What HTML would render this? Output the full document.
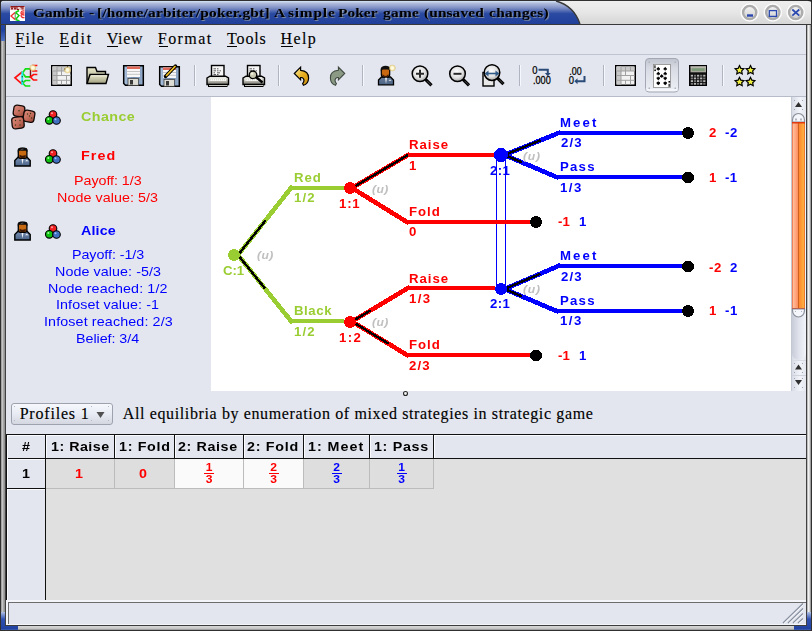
<!DOCTYPE html>
<html><head><meta charset="utf-8">
<style>
html,body{margin:0;padding:0;width:812px;height:631px;overflow:hidden;background:#303030;}
#w{position:absolute;left:0;top:0;width:812px;height:631px;background:#e3e6ef;overflow:hidden;font-family:"Liberation Sans",sans-serif;}
.a{position:absolute;}
.t{position:absolute;line-height:0;white-space:pre;}
</style></head><body>
<div id="w">
<div class="a" style="left:0;top:0;width:812px;height:1px;background:#303030"></div>
<div class="a" style="left:0;top:0;width:1px;height:631px;background:#303030"></div>
<div class="a" style="left:811px;top:0;width:1px;height:631px;background:#303030"></div>
<div class="a" style="left:0;top:630px;width:812px;height:1px;background:#303030"></div>
<div class="a" style="left:1px;top:25px;width:4px;height:600px;background:linear-gradient(to right,#909090,#c8c8c8 35%,#a8a8a8 60%,#8a8a8a)"></div>
<div class="a" style="left:5px;top:24px;width:1px;height:602px;background:#404040"></div>
<div class="a" style="left:807px;top:25px;width:4px;height:600px;background:linear-gradient(to right,#a0a0a0,#f2f2f2 35%,#dcdcdc 60%,#808080)"></div>
<div class="a" style="left:806px;top:24px;width:1px;height:602px;background:#404040"></div>
<div class="a" style="left:1px;top:626px;width:810px;height:4px;background:linear-gradient(to bottom,#d8d8d8,#c8c8c8 60%,#909090)"></div>
<div class="a" style="left:5px;top:625px;width:802px;height:1px;background:#3c3c3c"></div>
<div class="a" style="left:1px;top:4px;width:4px;height:37px;background:linear-gradient(to bottom,#a8b8e0,#3050b0 25%,#2040a0 70%,#5070c0)"></div>
<div class="a" style="left:1px;top:612px;width:4px;height:18px;background:linear-gradient(to bottom,#b0c0e4,#3050b0 40%,#2040a0)"></div>
<div class="a" style="left:1px;top:626px;width:17px;height:4px;background:linear-gradient(to bottom,#2848a8,#2040a0 60%,#4060b0)"></div>
<div class="a" style="left:807px;top:612px;width:4px;height:18px;background:linear-gradient(to bottom,#b0c0e4,#3050b0 40%,#2040a0)"></div>
<div class="a" style="left:794px;top:626px;width:17px;height:4px;background:linear-gradient(to bottom,#2848a8,#2040a0 60%,#4060b0)"></div>
<div class="a" style="left:1px;top:1px;width:810px;height:23px;background:linear-gradient(to bottom,#eeeeee,#e6e6e6 50%,#d6d6d6)"></div>
<svg class="a" style="left:0;top:0" width="812" height="25">
<defs><linearGradient id="tg" x1="0" y1="0" x2="0" y2="1"><stop offset="0" stop-color="#d8e4f4"/><stop offset="0.1" stop-color="#b0bcdc"/><stop offset="0.3" stop-color="#8090c4"/><stop offset="0.55" stop-color="#2a4aa2"/><stop offset="1" stop-color="#1f3f9a"/></linearGradient></defs>
<path d="M1,4 Q1,1 4,1 L557,1 Q574,6 580,24 L1,24 Z" fill="url(#tg)"/>
<path d="M556,1 Q574,6 580,24" fill="none" stroke="#3a3a3a" stroke-width="1.3"/>
<path d="M0,0 L4,0 Q1,1 0,4 Z" fill="#202020"/>
</svg>
<div class="a" style="left:0;top:24px;width:812px;height:1px;background:#383838"></div>
<svg class="a" style="left:10px;top:6px" width="15" height="15" viewBox="0 0 15 15">
<rect width="15" height="15" fill="#fff"/><rect width="15" height="4" fill="#e8c8c8"/>
<path d="M0.5,0.5 h14 M1,1 l1,2.5 l1,-2.5 M4,1 l1,2.5 l1,-2.5 M7,1 v2.5 h2 M10,1 h2 v2.5 M13,1 v2.5" stroke="#901818" stroke-width="1" fill="none"/>
<path d="M5,6.5 L1,10 L5,13.5" stroke="#f03030" stroke-width="1.4" fill="none"/>
<path d="M5.5,6.5 L9,4.5 M5.5,13.5 L9.5,15 M5.5,6.5 L9,9.5 L6,13" stroke="#10d010" stroke-width="1.5" fill="none"/>
<path d="M5.2,6.5 V13.5" stroke="#208020" stroke-width="0.8"/>
<path d="M14.5,5 Q11,4.5 11,7 Q11,9 14.5,9 M14.5,7 h-2.5 M11,9 Q11,12 14.5,11.5" stroke="#f03030" stroke-width="1.3" fill="none"/>
</svg>
<!-- window buttons -->
<svg class="a" style="left:738px;top:0" width="74" height="25">
<defs><linearGradient id="bfill" x1="0" y1="0" x2="0" y2="1"><stop offset="0" stop-color="#f4f4f4"/><stop offset="1" stop-color="#cfcfcf"/></linearGradient>
<filter id="bl1" x="-0.3" y="-0.3" width="1.6" height="1.6"><feGaussianBlur stdDeviation="0.6"/></filter></defs>
<g>
<circle cx="11.7" cy="12.5" r="8.4" fill="none" stroke="#fcfcfc" stroke-width="1.8"/>
<circle cx="34.8" cy="12.5" r="8.4" fill="none" stroke="#fcfcfc" stroke-width="1.8"/>
<circle cx="57.7" cy="12.5" r="8.4" fill="none" stroke="#fcfcfc" stroke-width="1.8"/>
<g filter="url(#bl1)">
<circle cx="11.7" cy="12.5" r="6.6" fill="url(#bfill)" stroke="#acacac" stroke-width="2.4"/>
<circle cx="34.8" cy="12.5" r="6.6" fill="url(#bfill)" stroke="#acacac" stroke-width="2.4"/>
<circle cx="57.7" cy="12.5" r="6.6" fill="url(#bfill)" stroke="#acacac" stroke-width="2.4"/>
</g>
</g>
<rect x="9" y="14.3" width="6" height="2.4" fill="#2a48b0"/>
<rect x="31.3" y="10.6" width="7.2" height="5.8" fill="none" stroke="#2a48b0" stroke-width="1.3"/>
<path d="M54.3,9.5 L61.3,15.6 M61.3,9.5 L54.3,15.6" stroke="#2a48b0" stroke-width="1.7"/>
<path d="M70,0 L74,0 L74,4 Q74,1 70,1 Z" fill="#202020"/>
</svg>

<div class="a" style="left:16px;top:46px;width:9px;height:1px;background:#000"></div>
<div class="a" style="left:60px;top:46px;width:9px;height:1px;background:#000"></div>
<div class="a" style="left:107px;top:46px;width:11px;height:1px;background:#000"></div>
<div class="a" style="left:158.5px;top:46px;width:9px;height:1px;background:#000"></div>
<div class="a" style="left:227px;top:46px;width:10px;height:1px;background:#000"></div>
<div class="a" style="left:281px;top:46px;width:12px;height:1px;background:#000"></div>
<div class="a" style="left:6px;top:54px;width:800px;height:1px;background:#c0c4d0"></div>
<div id="tb"><svg class="a" style="left:0;top:0" width="812" height="97" viewBox="0 0 812 97">
<defs>
<radialGradient id="spk"><stop offset="0" stop-color="#ffffff"/><stop offset="0.45" stop-color="#fbf4c8"/><stop offset="0.8" stop-color="#e0c060" stop-opacity="0.6"/><stop offset="1" stop-color="#d8c070" stop-opacity="0"/></radialGradient>
<radialGradient id="lens" cx="0.45" cy="0.4" r="0.6"><stop offset="0" stop-color="#ffffff"/><stop offset="0.6" stop-color="#e2e2e2"/><stop offset="1" stop-color="#a8a8a8"/></radialGradient>
<linearGradient id="fold" x1="0" y1="0" x2="0" y2="1"><stop offset="0" stop-color="#e8e8cc"/><stop offset="1" stop-color="#a0a080"/></linearGradient>
<linearGradient id="prn" x1="0" y1="0" x2="0" y2="1"><stop offset="0" stop-color="#f4f4f0"/><stop offset="0.5" stop-color="#c8c8c0"/><stop offset="1" stop-color="#707068"/></linearGradient>
<linearGradient id="flp" x1="0" y1="0" x2="1" y2="0"><stop offset="0" stop-color="#b0c8e4"/><stop offset="0.5" stop-color="#7088a8"/><stop offset="1" stop-color="#98b0d0"/></linearGradient>
<linearGradient id="gold" x1="0" y1="0" x2="1" y2="1"><stop offset="0" stop-color="#fff4b0"/><stop offset="0.5" stop-color="#e8b020"/><stop offset="1" stop-color="#c88a10"/></linearGradient>
<linearGradient id="press" x1="0" y1="0" x2="0" y2="1"><stop offset="0" stop-color="#c0c4ce"/><stop offset="0.3" stop-color="#d8dbe4"/><stop offset="1" stop-color="#eef0f6"/></linearGradient>
<linearGradient id="suit" x1="0" y1="0" x2="0" y2="1"><stop offset="0" stop-color="#6a7e9a"/><stop offset="1" stop-color="#4a6282"/></linearGradient>
</defs>
<g fill="none" stroke-width="1.7" stroke-linecap="square">
<path d="M21.5,72.5 L15,77.8 L21.5,83.5" stroke="#ff1010"/>
<path d="M22.5,73 L25.5,68.8 L29.5,68.8 M22.5,73 L25.5,76.8 L29.5,76.8 M22.5,83 L25.5,80.5 L29.5,80.5 M22.5,83 L25.5,86 L29.5,86" stroke="#10e010"/>
<path d="M22.3,72.5 L22.3,84" stroke="#20e8f0" stroke-width="1.9"/>
<path d="M30.5,68.5 L30.5,77" stroke="#801010" stroke-width="1.4"/>
<path d="M33,65.5 L36.5,65.5 M33,71 L36.5,71 M30.5,77 L33.5,74.5 L36.5,74.5 M30.5,77 L33.5,80 L36.5,80" stroke="#ff1010"/>
</g>
<rect x="21.6" y="76" width="1.4" height="1.4" fill="#108040"/><rect x="21.6" y="80.5" width="1.4" height="1.4" fill="#108040"/>
<circle cx="32.8" cy="67.8" r="3.8" fill="url(#spk)"/>
<g><rect x="51.75" y="65.75" width="19.5" height="19.5" fill="#f2f2f2" stroke="#000" stroke-width="1.5"/><rect x="52.5" y="66.5" width="18" height="4.5" fill="#c8c8c8"/><rect x="52.5" y="66.5" width="4.5" height="18" fill="#c8c8c8"/><g stroke="#a0a0a0" stroke-width="1"><path d="M52.5,71 H70.5 M52.5,75.5 H70.5 M52.5,80.3 H70.5 M57,66.5 V84.5 M61.5,66.5 V71 M61.5,80.3 V84.5 M66.5,66.5 V71 M66.5,75.5 V84.5 M61.5,71 V75.5"/></g><circle cx="67.5" cy="70" r="3.8" fill="url(#spk)"/><g fill="#504020"><rect x="64.3" y="68.5" width="1" height="1"/><rect x="70" y="72.5" width="1" height="1"/><rect x="67" y="66.2" width="1" height="1"/></g></g>
<path d="M87,83.5 L87,67.5 L95.5,67.5 L97,71.5 L105.5,71.5 L105.5,74.5" fill="url(#fold)" stroke="#000" stroke-width="1.4"/>
<path d="M90,74.5 L108.5,74.5 L106,83.5 L87,83.5 Z" fill="url(#fold)" stroke="#000" stroke-width="1.4"/>
<path d="M91,75.8 L107,75.8" stroke="#f8f8e8" stroke-width="1"/>
<path d="M123.7,65.7 H143.3 V85.3 H125.5 L123.7,83.5 Z" fill="url(#flp)" stroke="#000" stroke-width="1.5"/><rect x="127" y="66.5" width="13" height="10.5" fill="#f8f8f8"/><rect x="127" y="66.5" width="13" height="2.5" fill="#e06858"/><path d="M127,71.5 H140 M127,74.3 H140" stroke="#b8b8b8" stroke-width="0.8"/><rect x="128" y="78.5" width="10.5" height="6.8" fill="#dcdcd4" stroke="#383838" stroke-width="0.7"/><rect x="130" y="80" width="3" height="4.5" fill="#383838"/>
<path d="M159.7,66.7 H179.3 V86.3 H161.5 L159.7,84.5 Z" fill="url(#flp)" stroke="#000" stroke-width="1.5"/><rect x="163" y="67.5" width="13" height="10.5" fill="#f8f8f8"/><rect x="163" y="67.5" width="13" height="2.5" fill="#e06858"/><path d="M163,72.5 H176 M163,75.3 H176" stroke="#b8b8b8" stroke-width="0.8"/><rect x="164" y="79.5" width="10.5" height="6.8" fill="#dcdcd4" stroke="#383838" stroke-width="0.7"/><rect x="166" y="81" width="3" height="4.5" fill="#383838"/><path d="M165.5,76.5 L175.5,66" stroke="#000" stroke-width="3.4" stroke-linecap="round"/><path d="M166.5,75.5 L175,66.5" stroke="#f4c420" stroke-width="1.7" stroke-linecap="round"/>
<rect x="194" y="65" width="1" height="21" fill="#b0b4c0"/><rect x="195" y="65" width="1" height="21" fill="#f6f8ff"/>
<rect x="278" y="65" width="1" height="21" fill="#b0b4c0"/><rect x="279" y="65" width="1" height="21" fill="#f6f8ff"/>
<rect x="362" y="65" width="1" height="21" fill="#b0b4c0"/><rect x="363" y="65" width="1" height="21" fill="#f6f8ff"/>
<rect x="519" y="65" width="1" height="21" fill="#b0b4c0"/><rect x="520" y="65" width="1" height="21" fill="#f6f8ff"/>
<rect x="603" y="65" width="1" height="21" fill="#b0b4c0"/><rect x="604" y="65" width="1" height="21" fill="#f6f8ff"/>
<rect x="722" y="65" width="1" height="21" fill="#b0b4c0"/><rect x="723" y="65" width="1" height="21" fill="#f6f8ff"/>
<rect x="211.5" y="65.5" width="12.5" height="11.5" fill="#f6f6f6" stroke="#000" stroke-width="1.4"/><g stroke="#606060" stroke-width="1"><path d="M213.5,68.8 H216 M217,68.8 H218.5 M213.5,70.8 H216 M217,70.8 H218.5 M219.5,70.8 H221 M213.5,72.8 H215 M217,72.8 H220 M213.5,74.5 H216 M217,74.5 H218.5"/></g><path d="M207,78 L210,76.2 L225.5,76.2 L228.5,78 L228.5,84.5 L207,84.5 Z" fill="url(#prn)" stroke="#000" stroke-width="1.4"/><rect x="209.5" y="78.5" width="16.5" height="2.5" fill="#f8f8f4"/><path d="M210,79.8 H225.5" stroke="#b0b0a8" stroke-width="0.6" stroke-dasharray="1,1"/><rect x="208.5" y="84.5" width="18.5" height="2" fill="#c8c8c0" stroke="#000" stroke-width="1"/>
<rect x="247.5" y="65.5" width="12.5" height="11.5" fill="#f6f6f6" stroke="#000" stroke-width="1.4"/><g stroke="#606060" stroke-width="1"><path d="M249.5,68.8 H252 M253,68.8 H254.5 M249.5,70.8 H252 M253,70.8 H254.5 M255.5,70.8 H257 M249.5,72.8 H251 M253,72.8 H256 M249.5,74.5 H252 M253,74.5 H254.5"/></g><path d="M243,78 L246,76.2 L261.5,76.2 L264.5,78 L264.5,84.5 L243,84.5 Z" fill="url(#prn)" stroke="#000" stroke-width="1.4"/><rect x="245.5" y="78.5" width="16.5" height="2.5" fill="#f8f8f4"/><path d="M246,79.8 H261.5" stroke="#b0b0a8" stroke-width="0.6" stroke-dasharray="1,1"/><rect x="244.5" y="84.5" width="18.5" height="2" fill="#c8c8c0" stroke="#000" stroke-width="1"/><path d="M256,77 L262.5,82.5" stroke="#000" stroke-width="2.4"/><circle cx="253" cy="74.8" r="3.8" fill="#c8c8b0" stroke="#000" stroke-width="1.3"/><circle cx="252.2" cy="73.8" r="1.3" fill="#f0f0e0"/>
<path d="M294.3,73.5 L300.6,67.2 L300.6,70.3 Q308.8,70.8 308.6,78.2 Q308.3,83.8 303.5,85.3 L302.6,83.6 Q305,80.5 303.2,78.3 Q302.2,77.2 300.6,77.6 L300.6,79.8 Z" fill="url(#gold)" stroke="#000" stroke-width="1.2"/>
<path d="M344.7,73.5 L338.4,67.2 L338.4,70.3 Q330.2,70.8 330.4,78.2 Q330.7,83.8 335.5,85.3 L336.4,83.6 Q334,80.5 335.8,78.3 Q336.8,77.2 338.4,77.6 L338.4,79.8 Z" fill="#8a9a84" stroke="#404a40" stroke-width="1.1"/>
<path d="M378.5,84.8 L378.5,80 L381.5,77 L390.5,77 L393.5,80 L393.5,84.8 Z" fill="url(#suit)" stroke="#000" stroke-width="1.3"/>
<path d="M385,77.5 L386,84 L387,77.5 Z" fill="#f0f4fa"/><path d="M388.5,80.8 h3 l-1.5,-1.3z" fill="#f0f4fa"/>
<rect x="381.3" y="67.5" width="8.4" height="9.5" rx="2.5" fill="#c86810" stroke="#000" stroke-width="1.2"/>
<path d="M380.8,71.5 L380.8,68.5 Q381.8,65.8 385.5,65.8 Q389.7,65.8 390.2,68.5 L390.2,71 L388.2,69.5 L382.8,69.5 Z" fill="#101010"/>
<path d="M382.5,74 Q385.5,78 388.5,74 L388.5,76 Q385.5,78.5 382.5,76Z" fill="#3a1a08"/>
<circle cx="392.3" cy="68" r="3.8" fill="url(#spk)"/>
<path d="M425.5,79.3 L431.5,85.3" stroke="#000" stroke-width="3.2"/><path d="M427,80.8 L431,84.8" stroke="#606060" stroke-width="0.8"/><circle cx="420" cy="73.8" r="7.8" fill="url(#lens)" stroke="#000" stroke-width="1.5"/><path d="M416,73.8 H424 M420,69.8 V77.8" stroke="#2a2a2a" stroke-width="2"/>
<path d="M463.0,79.3 L469.0,85.3" stroke="#000" stroke-width="3.2"/><path d="M464.5,80.8 L468.5,84.8" stroke="#606060" stroke-width="0.8"/><circle cx="457.5" cy="73.8" r="7.8" fill="url(#lens)" stroke="#000" stroke-width="1.5"/><path d="M453.5,73.8 H461.5" stroke="#2a2a2a" stroke-width="2"/>
<rect x="483" y="72.5" width="11" height="13.5" fill="#e8e8e8" stroke="#000" stroke-width="1.4"/>
<path d="M497.5,78.1 L503.5,84.1" stroke="#000" stroke-width="3.2"/><path d="M499,79.6 L503,83.6" stroke="#606060" stroke-width="0.8"/><circle cx="492" cy="72.6" r="7.8" fill="url(#lens)" stroke="#000" stroke-width="1.5"/>
<path d="M485.5,73.5 H498.5" stroke="#305a88" stroke-width="1.6" fill="none"/><path d="M484.8,73.5 L488.5,70.5 L488.5,76.5 Z M499.2,73.5 L495.5,70.5 L495.5,76.5 Z" fill="#305a88"/>
<g font-family="Liberation Sans" font-size="10.5" fill="#000" stroke="#000" stroke-width="0.25">
<text x="532.3" y="74.2" transform="translate(532.3,0) scale(0.9,1) translate(-532.3,0)">0</text>
<text x="533" y="84.2" transform="translate(533,0) scale(0.87,1) translate(-533,0)">.000</text>
<text x="569.3" y="75.2" transform="translate(569.3,0) scale(0.85,1) translate(-569.3,0)">.00</text>
<text x="568.8" y="84.2" transform="translate(568.8,0) scale(0.9,1) translate(-568.8,0)">0</text>
</g>
<path d="M538.5,69.8 H547.8 V73.5" stroke="#2a4a78" stroke-width="2" fill="none"/><path d="M544.8,73 L550.8,73 L547.8,76.3 Z" fill="#2a4a78"/>
<path d="M584.5,76 V81.3 H577" stroke="#2a4a78" stroke-width="2" fill="none"/><path d="M577.5,78.3 L577.5,84.3 L574.3,81.3 Z" fill="#2a4a78"/>
<g><rect x="615.75" y="65.75" width="19.5" height="19.5" fill="#f2f2f2" stroke="#000" stroke-width="1.5"/><rect x="616.5" y="66.5" width="18" height="4.5" fill="#c8c8c8"/><rect x="616.5" y="66.5" width="4.5" height="18" fill="#c8c8c8"/><g stroke="#a0a0a0" stroke-width="1"><path d="M616.5,71 H634.5 M616.5,75.5 H634.5 M616.5,80.3 H634.5 M621,66.5 V84.5 M625.5,66.5 V71 M625.5,80.3 V84.5 M630.5,66.5 V71 M630.5,75.5 V84.5 M625.5,71 V75.5"/></g></g>
<rect x="645.5" y="58.5" width="33" height="33.5" rx="3.5" fill="url(#press)" stroke="#a4a8b4" stroke-width="1"/>
<rect x="646.5" y="89" width="31" height="2" fill="#f4f6fb"/>
<g fill="#b0b4be"><rect x="648.5" y="61.5" width="1.5" height="1.5"/><rect x="674.5" y="61.5" width="1.5" height="1.5"/><rect x="648.5" y="87.5" width="1.5" height="1.5"/><rect x="674.5" y="87.5" width="1.5" height="1.5"/></g>
<rect x="653.5" y="64.5" width="17" height="23" fill="#ffffff" stroke="#8a8a8a" stroke-width="0.8"/>
<path d="M658.30,66.63 C658.77,67.56 660.09,68.19 660.09,69.12 C660.09,69.98 659.08,70.14 658.57,69.51 L659.00,70.53 L657.60,70.53 L658.03,69.51 C657.52,70.14 656.51,69.98 656.51,69.12 C656.51,68.19 657.83,67.56 658.30,66.63 Z" fill="#000"/>
<path d="M665.20,66.63 C665.67,67.56 666.99,68.19 666.99,69.12 C666.99,69.98 665.98,70.14 665.47,69.51 L665.90,70.53 L664.50,70.53 L664.93,69.51 C664.42,70.14 663.41,69.98 663.41,69.12 C663.41,68.19 664.73,67.56 665.20,66.63 Z" fill="#000"/>
<path d="M658.30,71.43 C658.77,72.36 660.09,72.99 660.09,73.92 C660.09,74.78 659.08,74.94 658.57,74.31 L659.00,75.33 L657.60,75.33 L658.03,74.31 C657.52,74.94 656.51,74.78 656.51,73.92 C656.51,72.99 657.83,72.36 658.30,71.43 Z" fill="#000"/>
<path d="M665.20,71.43 C665.67,72.36 666.99,72.99 666.99,73.92 C666.99,74.78 665.98,74.94 665.47,74.31 L665.90,75.33 L664.50,75.33 L664.93,74.31 C664.42,74.94 663.41,74.78 663.41,73.92 C663.41,72.99 664.73,72.36 665.20,71.43 Z" fill="#000"/>
<path d="M661.70,73.93 C662.17,74.86 663.49,75.49 663.49,76.42 C663.49,77.28 662.48,77.44 661.97,76.81 L662.40,77.83 L661.00,77.83 L661.43,76.81 C660.92,77.44 659.91,77.28 659.91,76.42 C659.91,75.49 661.23,74.86 661.70,73.93 Z" fill="#000"/>
<path d="M658.30,80.57 C658.77,79.64 660.09,79.01 660.09,78.08 C660.09,77.22 659.08,77.06 658.57,77.69 L659.00,76.67 L657.60,76.67 L658.03,77.69 C657.52,77.06 656.51,77.22 656.51,78.08 C656.51,79.01 657.83,79.64 658.30,80.57 Z" fill="#000"/>
<path d="M665.20,80.57 C665.67,79.64 666.99,79.01 666.99,78.08 C666.99,77.22 665.98,77.06 665.47,77.69 L665.90,76.67 L664.50,76.67 L664.93,77.69 C664.42,77.06 663.41,77.22 663.41,78.08 C663.41,79.01 664.73,79.64 665.20,80.57 Z" fill="#000"/>
<path d="M658.30,85.37 C658.77,84.44 660.09,83.81 660.09,82.88 C660.09,82.02 659.08,81.86 658.57,82.49 L659.00,81.47 L657.60,81.47 L658.03,82.49 C657.52,81.86 656.51,82.02 656.51,82.88 C656.51,83.81 657.83,84.44 658.30,85.37 Z" fill="#000"/>
<path d="M665.20,85.37 C665.67,84.44 666.99,83.81 666.99,82.88 C666.99,82.02 665.98,81.86 665.47,82.49 L665.90,81.47 L664.50,81.47 L664.93,82.49 C664.42,81.86 663.41,82.02 663.41,82.88 C663.41,83.81 664.73,84.44 665.20,85.37 Z" fill="#000"/>
<rect x="654.3" y="65.3" width="1.3" height="3" fill="#202020"/><rect x="654.3" y="69.5" width="1.6" height="1.6" fill="#000"/><rect x="668.5" y="81" width="1.6" height="1.6" fill="#000"/><rect x="668.5" y="83.8" width="1.3" height="3" fill="#202020"/>
<rect x="689.5" y="65.5" width="17" height="20" fill="#101010" stroke="#000" stroke-width="1"/>
<rect x="690.5" y="66.5" width="15.5" height="5.8" fill="#a8a89c"/><rect x="692" y="68.3" width="12.5" height="2.6" fill="#7a9a78"/><rect x="690.5" y="66.5" width="15.5" height="0.8" fill="#d8d8d0"/>
<rect x="690.8" y="74.8" width="2.2" height="1.8" fill="#b8b8b8"/>
<rect x="693.9" y="74.8" width="2.2" height="1.8" fill="#787878"/>
<rect x="697.0" y="74.8" width="2.2" height="1.8" fill="#b8b8b8"/>
<rect x="700.1" y="74.8" width="2.2" height="1.8" fill="#787878"/>
<rect x="703.2" y="74.8" width="2.2" height="1.8" fill="#b8b8b8"/>
<rect x="690.8" y="77.5" width="2.2" height="1.8" fill="#787878"/>
<rect x="693.9" y="77.5" width="2.2" height="1.8" fill="#b8b8b8"/>
<rect x="697.0" y="77.5" width="2.2" height="1.8" fill="#787878"/>
<rect x="700.1" y="77.5" width="2.2" height="1.8" fill="#b8b8b8"/>
<rect x="703.2" y="77.5" width="2.2" height="1.8" fill="#787878"/>
<rect x="690.8" y="80.2" width="2.2" height="1.8" fill="#b8b8b8"/>
<rect x="693.9" y="80.2" width="2.2" height="1.8" fill="#787878"/>
<rect x="697.0" y="80.2" width="2.2" height="1.8" fill="#b8b8b8"/>
<rect x="700.1" y="80.2" width="2.2" height="1.8" fill="#787878"/>
<rect x="703.2" y="80.2" width="2.2" height="1.8" fill="#b8b8b8"/>
<rect x="690.8" y="82.9" width="2.2" height="1.8" fill="#787878"/>
<rect x="693.9" y="82.9" width="2.2" height="1.8" fill="#b8b8b8"/>
<rect x="697.0" y="82.9" width="2.2" height="1.8" fill="#787878"/>
<rect x="700.1" y="82.9" width="2.2" height="1.8" fill="#b8b8b8"/>
<rect x="703.2" y="82.9" width="2.2" height="1.8" fill="#787878"/>
<polygon points="739.50,65.60 740.85,68.34 743.87,68.78 741.69,70.91 742.20,73.92 739.50,72.50 736.80,73.92 737.31,70.91 735.13,68.78 738.15,68.34" fill="#f0f040" stroke="#000" stroke-width="1.2" stroke-linejoin="miter"/>
<polygon points="750.50,65.60 751.85,68.34 754.87,68.78 752.69,70.91 753.20,73.92 750.50,72.50 747.80,73.92 748.31,70.91 746.13,68.78 749.15,68.34" fill="#f0f040" stroke="#000" stroke-width="1.2" stroke-linejoin="miter"/>
<polygon points="739.50,77.40 740.85,80.14 743.87,80.58 741.69,82.71 742.20,85.72 739.50,84.30 736.80,85.72 737.31,82.71 735.13,80.58 738.15,80.14" fill="#f0f040" stroke="#000" stroke-width="1.2" stroke-linejoin="miter"/>
<polygon points="750.50,77.40 751.85,80.14 754.87,80.58 752.69,82.71 753.20,85.72 750.50,84.30 747.80,85.72 748.31,82.71 746.13,80.58 749.15,80.14" fill="#f0f040" stroke="#000" stroke-width="1.2" stroke-linejoin="miter"/>
</svg></div>
<div class="a" style="left:6px;top:96px;width:800px;height:1px;background:#b8bcc8"></div>
<div id="lp"><svg width="0" height="0" style="position:absolute"><defs><linearGradient id="suit2" x1="0" y1="0" x2="0" y2="1"><stop offset="0" stop-color="#7a92b4"/><stop offset="1" stop-color="#4a6488"/></linearGradient></defs></svg><svg class="a" style="left:10px;top:104px" width="26" height="26" viewBox="0 0 26 26">
<defs><linearGradient id="dg" x1="0" y1="0" x2="1" y2="1"><stop offset="0" stop-color="#e09080"/><stop offset="0.6" stop-color="#c06858"/><stop offset="1" stop-color="#904030"/></linearGradient></defs>
<g stroke="#140a08" stroke-width="1.3">
<rect x="3.5" y="1.5" width="11" height="11" rx="3" fill="url(#dg)" transform="rotate(8 9 7)"/>
<rect x="13.5" y="6.5" width="11" height="11.5" rx="3" fill="url(#dg)" transform="rotate(10 19 12)"/>
<rect x="2" y="13" width="12" height="11.5" rx="3" fill="url(#dg)" transform="rotate(-6 8 19)"/>
</g>
<g fill="#3a3a10"><circle cx="9" cy="6.8" r="0.8"/><circle cx="17.5" cy="10" r="0.7"/><circle cx="19.5" cy="12" r="0.7"/><circle cx="21.5" cy="14" r="0.7"/><circle cx="20.5" cy="9.5" r="0.7"/><circle cx="5.5" cy="16.5" r="0.7"/><circle cx="10" cy="16.5" r="0.7"/><circle cx="5.5" cy="21" r="0.7"/><circle cx="10" cy="21" r="0.7"/></g>
</svg><svg class="a" style="left:45px;top:110px" width="16" height="15" viewBox="0 0 16 15">
<circle cx="8" cy="4.5" r="3.8" fill="#f02020" stroke="#000" stroke-width="1.1"/>
<circle cx="4.3" cy="10.3" r="3.8" fill="#10c010" stroke="#000" stroke-width="1.1"/>
<circle cx="11.5" cy="10.5" r="3.8" fill="#4070c0" stroke="#000" stroke-width="1.1"/>
<circle cx="7" cy="3.3" r="1" fill="#ffa0a0"/><circle cx="3.3" cy="9" r="1" fill="#a0ffa0"/><circle cx="10.5" cy="9.2" r="1" fill="#a0c0ff"/>
</svg><svg class="a" style="left:14px;top:147px" width="18" height="20" viewBox="0 0 18 20">
<path d="M0.8,19 L0.8,13.5 L4.5,9.8 L12.5,9.8 L16.2,13.5 L16.2,19 Z" fill="url(#suit2)" stroke="#000" stroke-width="1.4"/>
<path d="M7.3,10.5 L8.5,17.5 L9.7,10.5 Z" fill="#eef2f8"/><path d="M11,14.3 h3.5 l-1.75,-1.5z" fill="#eef2f8"/>
<rect x="4.3" y="1.3" width="8.6" height="10" rx="2" fill="#c86a12" stroke="#000" stroke-width="1.3"/>
<path d="M3.8,5.5 L3.8,3 Q4.6,0.6 8.6,0.6 Q12.6,0.6 13.4,3 L13.4,5.2 L11.8,3.8 L5.4,3.8 Z" fill="#0c0c0c"/>
<path d="M6.5,3 Q8,1.8 9.5,2.2" stroke="#606060" stroke-width="0.8" fill="none"/>
<path d="M5.5,7.8 Q8.6,9.5 11.7,7.8 L11.7,10 Q8.6,12.5 5.5,10 Z" fill="#3a1806"/>
</svg><svg class="a" style="left:45px;top:149px" width="16" height="15" viewBox="0 0 16 15">
<circle cx="8" cy="4.5" r="3.8" fill="#f02020" stroke="#000" stroke-width="1.1"/>
<circle cx="4.3" cy="10.3" r="3.8" fill="#10c010" stroke="#000" stroke-width="1.1"/>
<circle cx="11.5" cy="10.5" r="3.8" fill="#4070c0" stroke="#000" stroke-width="1.1"/>
<circle cx="7" cy="3.3" r="1" fill="#ffa0a0"/><circle cx="3.3" cy="9" r="1" fill="#a0ffa0"/><circle cx="10.5" cy="9.2" r="1" fill="#a0c0ff"/>
</svg><svg class="a" style="left:14px;top:221px" width="18" height="20" viewBox="0 0 18 20">
<path d="M0.8,19 L0.8,13.5 L4.5,9.8 L12.5,9.8 L16.2,13.5 L16.2,19 Z" fill="url(#suit2)" stroke="#000" stroke-width="1.4"/>
<path d="M7.3,10.5 L8.5,17.5 L9.7,10.5 Z" fill="#eef2f8"/><path d="M11,14.3 h3.5 l-1.75,-1.5z" fill="#eef2f8"/>
<rect x="4.3" y="1.3" width="8.6" height="10" rx="2" fill="#c86a12" stroke="#000" stroke-width="1.3"/>
<path d="M3.8,5.5 L3.8,3 Q4.6,0.6 8.6,0.6 Q12.6,0.6 13.4,3 L13.4,5.2 L11.8,3.8 L5.4,3.8 Z" fill="#0c0c0c"/>
<path d="M6.5,3 Q8,1.8 9.5,2.2" stroke="#606060" stroke-width="0.8" fill="none"/>
<path d="M5.5,7.8 Q8.6,9.5 11.7,7.8 L11.7,10 Q8.6,12.5 5.5,10 Z" fill="#3a1806"/>
</svg><svg class="a" style="left:45px;top:224px" width="16" height="15" viewBox="0 0 16 15">
<circle cx="8" cy="4.5" r="3.8" fill="#f02020" stroke="#000" stroke-width="1.1"/>
<circle cx="4.3" cy="10.3" r="3.8" fill="#10c010" stroke="#000" stroke-width="1.1"/>
<circle cx="11.5" cy="10.5" r="3.8" fill="#4070c0" stroke="#000" stroke-width="1.1"/>
<circle cx="7" cy="3.3" r="1" fill="#ffa0a0"/><circle cx="3.3" cy="9" r="1" fill="#a0ffa0"/><circle cx="10.5" cy="9.2" r="1" fill="#a0c0ff"/>
</svg></div>
<div class="a" style="left:211px;top:97px;width:580px;height:294px;background:#fff"></div>
<svg class="a" style="left:0;top:0" width="812" height="400" shape-rendering="crispEdges">
<g stroke="#0000ff" stroke-width="1"><path d="M496.5,155 L496.5,289 M505.5,155 L505.5,289"/></g>
<g stroke-width="4" fill="none" stroke-linecap="butt">
<path d="M291,188 L344,188 M291,321 L344,321" stroke="#9acd32"/>
<path d="M408,155 L495,155 M407,222 L536,222 M408,288 L495,288 M407,355 L536,355" stroke="#ff0000"/>
<path d="M558.5,133 L688,133 M556.5,177 L688,177 M558.5,266 L688,266 M556.5,311 L688,311" stroke="#0000ff"/>
</g>
<g stroke-width="4.6" fill="none" stroke-linecap="square">
<path d="M238,255 L291,188 M238,255 L291,321" stroke="#9acd32"/>
<path d="M352,188 L408,155 M352,188 L407,222 M352,321.5 L408,288 M352,321.5 L407,355" stroke="#ff0000"/>
<path d="M504.5,155 L558.5,133 M504.5,155 L556.5,177 M504.5,289 L558.5,266 M504.5,289 L556.5,311" stroke="#0000ff"/>
</g>
<g stroke-width="2.4" fill="none" stroke="#000">
<path d="M238,255 L265.5,220.5 M238,255 L265,288.5"/>
<path d="M352,188 L408,155 M352,321.5 L370.7,310.3 M352,321.5 L388.7,343.8"/>
<path d="M504.5,155 L540.5,140.3 M504.5,155 L521.8,162.3 M504.5,289 L540.5,273.7 M504.5,289 L521.8,296.3"/>
</g>
<circle cx="234" cy="255" r="6" fill="#9acd32"/>
<circle cx="350" cy="188" r="6" fill="#ff0000"/>
<circle cx="350" cy="322" r="6" fill="#ff0000"/>
<circle cx="501" cy="155" r="7" fill="#0000ff"/>
<circle cx="501" cy="289" r="6" fill="#0000ff"/>
<g fill="#000"><circle cx="688" cy="133" r="6"/><circle cx="688" cy="177.5" r="6"/><circle cx="688" cy="266.5" r="6"/><circle cx="688" cy="311" r="6"/><circle cx="536" cy="222" r="6"/><circle cx="536" cy="355.5" r="6"/></g>
</svg>
<div id="sb"><svg class="a" style="left:791px;top:97px" width="15" height="294" viewBox="0 0 15 294">
<defs>
<linearGradient id="trk" x1="0" x2="1"><stop offset="0" stop-color="#c8ccd8"/><stop offset="0.5" stop-color="#e0e3ec"/><stop offset="1" stop-color="#f2f4fa"/></linearGradient>
<linearGradient id="btn" x1="0" x2="1"><stop offset="0" stop-color="#d4d8e2"/><stop offset="0.6" stop-color="#f2f4fa"/><stop offset="1" stop-color="#e4e7ef"/></linearGradient>
<linearGradient id="org" x1="0" x2="1"><stop offset="0" stop-color="#e04818"/><stop offset="0.08" stop-color="#ffc0a0"/><stop offset="0.45" stop-color="#ff9060"/><stop offset="0.5" stop-color="#d06020"/><stop offset="0.56" stop-color="#ff8a30"/><stop offset="0.92" stop-color="#ffb040"/><stop offset="1" stop-color="#e04818"/></linearGradient>
</defs>
<rect x="0" y="0" width="15" height="294" fill="url(#btn)"/>
<rect x="0" y="0" width="1" height="294" fill="#c4c8d2"/>
<rect x="1" y="16" width="14" height="247" rx="7" fill="url(#trk)"/>
<g fill="#303030"><path d="M7.5,5 L11,10 L4,10 Z"/></g>
<g fill="#a0a4b0"><rect x="3" y="3" width="1" height="1"/><rect x="11" y="3" width="1" height="1"/><rect x="3" y="12" width="1" height="1"/><rect x="11" y="12" width="1" height="1"/></g>
<path d="M1.5,25 L1.5,23 A6,6.5 0 0 1 13.5,23 L13.5,25Z" fill="#f4f6fc" stroke="#8a8e98" stroke-width="1.2"/>
<rect x="1" y="25" width="13" height="187" fill="url(#org)"/>
<rect x="1" y="25" width="13" height="1.5" fill="#e03a10"/>
<rect x="1" y="211" width="13" height="1.5" fill="#e03a10"/>
<path d="M1.5,212 L1.5,213.5 A6,6.5 0 0 0 13.5,213.5 L13.5,212Z" fill="#f4f6fc" stroke="#8a8e98" stroke-width="1.2"/>
<g fill="#b0b4be"><rect x="4" y="26.5" width="2" height="2" transform="translate(0,-5)"/><rect x="9" y="21.5" width="2" height="2"/><rect x="4" y="214" width="1" height="1"/><rect x="10" y="214" width="1" height="1"/></g>
<rect x="1" y="263" width="14" height="1" fill="#d8dbe4"/>
<rect x="1" y="278" width="14" height="1" fill="#d0d3dc"/>
<g fill="#303030"><path d="M7.5,267.5 L11,272.5 L4,272.5 Z"/><path d="M4,283 L11,283 L7.5,288 Z"/></g>
<g fill="#a0a4b0"><rect x="3" y="266" width="1" height="1"/><rect x="11" y="266" width="1" height="1"/><rect x="3" y="275" width="1" height="1"/><rect x="11" y="275" width="1" height="1"/><rect x="3" y="281" width="1" height="1"/><rect x="11" y="281" width="1" height="1"/><rect x="3" y="290" width="1" height="1"/><rect x="11" y="290" width="1" height="1"/></g>
</svg></div>


<div class="a" style="left:11px;top:403px;width:100px;height:20px;border:1px solid #9ea2ae;border-radius:3px;background:linear-gradient(to bottom,#f6f8fe,#e8ebf3 50%,#d4d7e0)"></div>
<svg class="a" style="left:11px;top:403px" width="102" height="22"><g fill="#b4b8c4"><rect x="3" y="3" width="1" height="1"/><rect x="3" y="17" width="1" height="1"/><rect x="80" y="3" width="1" height="1"/><rect x="80" y="17" width="1" height="1"/><rect x="97" y="3" width="1" height="1"/><rect x="97" y="17" width="1" height="1"/></g>
<path d="M85.5,9 L93.5,9 L89.5,15 Z" fill="#505050"/></svg>
<svg class="a" style="left:402px;top:390px" width="7" height="7"><circle cx="3.5" cy="3.5" r="2" fill="#f0f0f0" stroke="#282828" stroke-width="1.1"/></svg>
<div class="a" style="left:6px;top:434px;width:800px;height:166px;background:#e0e0e0"></div>
<div class="a" style="left:6px;top:434px;width:800px;height:25px;background:#e3e6ef"></div>
<div class="a" style="left:6px;top:434px;width:40px;height:166px;background:#e3e6ef"></div>
<div class="a" style="left:6px;top:434px;width:800px;height:1px;background:#101010"></div>
<div class="a" style="left:6px;top:435px;width:800px;height:1px;background:#fafbff"></div>
<div class="a" style="left:6px;top:458px;width:800px;height:1px;background:#101010"></div>
<div class="a" style="left:6px;top:434px;width:1px;height:166px;background:#101010"></div>
<div class="a" style="left:45px;top:434px;width:1px;height:166px;background:#101010"></div>
<div class="a" style="left:46px;top:435px;width:1px;height:23px;background:#fafbff"></div>
<div class="a" style="left:7px;top:435px;width:1px;height:165px;background:#fafbff"></div>
<div class="a" style="left:6px;top:488px;width:40px;height:1px;background:#101010"></div>
<div class="a" style="left:7px;top:459px;width:38px;height:1px;background:#fafbff"></div>
<div class="a" style="left:7px;top:489px;width:38px;height:1px;background:#fafbff"></div>
<div class="a" style="left:46px;top:459px;width:68px;height:29px;background:#dedede"></div>
<div class="a" style="left:115px;top:459px;width:59px;height:29px;background:#dedede"></div>
<div class="a" style="left:175px;top:459px;width:68px;height:29px;background:#fafafa"></div>
<div class="a" style="left:244px;top:459px;width:59px;height:29px;background:#fafafa"></div>
<div class="a" style="left:304px;top:459px;width:65px;height:29px;background:#dedede"></div>
<div class="a" style="left:370px;top:459px;width:63px;height:29px;background:#dedede"></div>
<div class="a" style="left:114px;top:434px;width:1px;height:25px;background:#101010"></div>
<div class="a" style="left:115px;top:435px;width:1px;height:23px;background:#fafbff"></div>
<div class="a" style="left:114px;top:459px;width:1px;height:30px;background:#bcbcbc"></div>
<div class="a" style="left:174px;top:434px;width:1px;height:25px;background:#101010"></div>
<div class="a" style="left:175px;top:435px;width:1px;height:23px;background:#fafbff"></div>
<div class="a" style="left:174px;top:459px;width:1px;height:30px;background:#bcbcbc"></div>
<div class="a" style="left:243px;top:434px;width:1px;height:25px;background:#101010"></div>
<div class="a" style="left:244px;top:435px;width:1px;height:23px;background:#fafbff"></div>
<div class="a" style="left:243px;top:459px;width:1px;height:30px;background:#bcbcbc"></div>
<div class="a" style="left:303px;top:434px;width:1px;height:25px;background:#101010"></div>
<div class="a" style="left:304px;top:435px;width:1px;height:23px;background:#fafbff"></div>
<div class="a" style="left:303px;top:459px;width:1px;height:30px;background:#bcbcbc"></div>
<div class="a" style="left:369px;top:434px;width:1px;height:25px;background:#101010"></div>
<div class="a" style="left:370px;top:435px;width:1px;height:23px;background:#fafbff"></div>
<div class="a" style="left:369px;top:459px;width:1px;height:30px;background:#bcbcbc"></div>
<div class="a" style="left:433px;top:434px;width:1px;height:25px;background:#101010"></div>
<div class="a" style="left:434px;top:435px;width:1px;height:23px;background:#fafbff"></div>
<div class="a" style="left:433px;top:459px;width:1px;height:30px;background:#bcbcbc"></div>
<div class="a" style="left:46px;top:488px;width:388px;height:1px;background:#bcbcbc"></div>
<div class="t" style="left:175px;width:68px;text-align:center;top:466.86px;font-size:10.5px;font-weight:bold;color:#ff0000;transform:scaleX(1.15)">1</div>
<div class="a" style="left:204.0px;top:472.6px;width:10px;height:1.6px;background:#ff0000"></div>
<div class="t" style="left:175px;width:68px;text-align:center;top:478.66px;font-size:10.5px;font-weight:bold;color:#ff0000;transform:scaleX(1.15)">3</div>
<div class="t" style="left:244px;width:59px;text-align:center;top:466.86px;font-size:10.5px;font-weight:bold;color:#ff0000;transform:scaleX(1.15)">2</div>
<div class="a" style="left:268.5px;top:472.6px;width:10px;height:1.6px;background:#ff0000"></div>
<div class="t" style="left:244px;width:59px;text-align:center;top:478.66px;font-size:10.5px;font-weight:bold;color:#ff0000;transform:scaleX(1.15)">3</div>
<div class="t" style="left:304px;width:65px;text-align:center;top:466.86px;font-size:10.5px;font-weight:bold;color:#0000ff;transform:scaleX(1.15)">2</div>
<div class="a" style="left:331.5px;top:472.6px;width:10px;height:1.6px;background:#0000ff"></div>
<div class="t" style="left:304px;width:65px;text-align:center;top:478.66px;font-size:10.5px;font-weight:bold;color:#0000ff;transform:scaleX(1.15)">3</div>
<div class="t" style="left:370px;width:63px;text-align:center;top:466.86px;font-size:10.5px;font-weight:bold;color:#0000ff;transform:scaleX(1.15)">1</div>
<div class="a" style="left:396.5px;top:472.6px;width:10px;height:1.6px;background:#0000ff"></div>
<div class="t" style="left:370px;width:63px;text-align:center;top:478.66px;font-size:10.5px;font-weight:bold;color:#0000ff;transform:scaleX(1.15)">3</div>
<div class="a" style="left:6px;top:600px;width:800px;height:25px;background:#f4f5fa"></div>
<div class="a" style="left:8px;top:602px;width:797px;height:21px;background:#e3e6ef;border-top:1px solid #6c6c6c;border-left:1px solid #6c6c6c"></div>
<svg class="a" style="left:780px;top:602px" width="26" height="23"><g stroke="#8890a0" stroke-width="1.3">
<path d="M3,21 L23,1.5 M8,21 L23,6.5 M13,21 L23,11.5 M18,21 L23,16.5"/></g>
<g stroke="#f8f9fd" stroke-width="1"><path d="M4,21.5 L23.5,2.5 M9,21.5 L23.5,7.5 M14,21.5 L23.5,12.5 M19,21.5 L23.5,17.5"/></g></svg>
<div class="t" style="left:33.36px;top:12.89px;color:#000;font:bold 13.5px/0 'Liberation Serif',serif;letter-spacing:0.041px;transform-origin:0 0;transform:scaleX(1.14);text-shadow:1px 1px 0 rgba(200,200,170,0.5);">Gambit</div>
<div class="t" style="left:88.97px;top:12.89px;color:#000;font:bold 13.5px/0 'Liberation Serif',serif;letter-spacing:0.000px;transform-origin:0 0;transform:scaleX(1.14);text-shadow:1px 1px 0 rgba(200,200,170,0.5);">-</div>
<div class="t" style="left:96.88px;top:12.89px;color:#000;font:bold 13.5px/0 'Liberation Serif',serif;letter-spacing:0.187px;transform-origin:0 0;transform:scaleX(1.14);text-shadow:1px 1px 0 rgba(200,200,170,0.5);">[/home/arbiter/poker.gbt]</div>
<div class="t" style="left:273.54px;top:12.89px;color:#000;font:bold 13.5px/0 'Liberation Serif',serif;letter-spacing:0.000px;transform-origin:0 0;transform:scaleX(1.14);text-shadow:1px 1px 0 rgba(200,200,170,0.5);">A</div>
<div class="t" style="left:287.92px;top:12.89px;color:#000;font:bold 13.5px/0 'Liberation Serif',serif;letter-spacing:0.694px;transform-origin:0 0;transform:scaleX(1.14);text-shadow:1px 1px 0 rgba(200,200,170,0.5);">simple</div>
<div class="t" style="left:337.78px;top:12.89px;color:#000;font:bold 13.5px/0 'Liberation Serif',serif;letter-spacing:0.044px;transform-origin:0 0;transform:scaleX(1.14);text-shadow:1px 1px 0 rgba(200,200,170,0.5);">Poker</div>
<div class="t" style="left:383.17px;top:12.89px;color:#000;font:bold 13.5px/0 'Liberation Serif',serif;letter-spacing:0.267px;transform-origin:0 0;transform:scaleX(1.14);text-shadow:1px 1px 0 rgba(200,200,170,0.5);">game</div>
<div class="t" style="left:423.99px;top:12.89px;color:#000;font:bold 13.5px/0 'Liberation Serif',serif;letter-spacing:0.086px;transform-origin:0 0;transform:scaleX(1.14);text-shadow:1px 1px 0 rgba(200,200,170,0.5);">(unsaved</div>
<div class="t" style="left:488.59px;top:12.89px;color:#000;font:bold 13.5px/0 'Liberation Serif',serif;letter-spacing:0.300px;transform-origin:0 0;transform:scaleX(1.14);text-shadow:1px 1px 0 rgba(200,200,170,0.5);">changes)</div>
<div class="t" style="left:15.37px;top:38.96px;color:#000;font:normal 16px/0 'Liberation Serif',serif;letter-spacing:1.222px;transform-origin:0 0;transform:scaleX(1.0);-webkit-text-stroke:0.15px #000;">File</div>
<div class="t" style="left:59.27px;top:38.96px;color:#000;font:normal 16px/0 'Liberation Serif',serif;letter-spacing:1.792px;transform-origin:0 0;transform:scaleX(1.0);-webkit-text-stroke:0.15px #000;">Edit</div>
<div class="t" style="left:106.84px;top:38.96px;color:#000;font:normal 16px/0 'Liberation Serif',serif;letter-spacing:0.694px;transform-origin:0 0;transform:scaleX(1.0);-webkit-text-stroke:0.15px #000;">View</div>
<div class="t" style="left:157.87px;top:38.96px;color:#000;font:normal 16px/0 'Liberation Serif',serif;letter-spacing:1.403px;transform-origin:0 0;transform:scaleX(1.0);-webkit-text-stroke:0.15px #000;">Format</div>
<div class="t" style="left:227.04px;top:38.96px;color:#000;font:normal 16px/0 'Liberation Serif',serif;letter-spacing:0.853px;transform-origin:0 0;transform:scaleX(1.0);-webkit-text-stroke:0.15px #000;">Tools</div>
<div class="t" style="left:280.47px;top:38.96px;color:#000;font:normal 16px/0 'Liberation Serif',serif;letter-spacing:1.391px;transform-origin:0 0;transform:scaleX(1.0);-webkit-text-stroke:0.15px #000;">Help</div>
<div class="t" style="left:81.27px;top:116.60px;color:#9acd32;font:bold 13px/0 'Liberation Sans',sans-serif;letter-spacing:0.377px;transform-origin:0 0;transform:scaleX(1.1);">Chance</div>
<div class="t" style="left:80.78px;top:156.30px;color:#ff0000;font:bold 13px/0 'Liberation Sans',sans-serif;letter-spacing:0.963px;transform-origin:0 0;transform:scaleX(1.1);">Fred</div>
<div class="t" style="left:80.60px;top:230.70px;color:#0000ff;font:bold 13px/0 'Liberation Sans',sans-serif;letter-spacing:0.132px;transform-origin:0 0;transform:scaleX(1.1);">Alice</div>
<div class="t" style="left:73.75px;top:180.70px;color:#ff0000;font:normal 13px/0 'Liberation Sans',sans-serif;letter-spacing:-0.046px;transform-origin:0 0;transform:scaleX(1.1);">Payoff: 1/3</div>
<div class="t" style="left:56.95px;top:197.50px;color:#ff0000;font:normal 13px/0 'Liberation Sans',sans-serif;letter-spacing:0.057px;transform-origin:0 0;transform:scaleX(1.1);">Node value: 5/3</div>
<div class="t" style="left:71.75px;top:254.50px;color:#0000ff;font:normal 13px/0 'Liberation Sans',sans-serif;letter-spacing:-0.058px;transform-origin:0 0;transform:scaleX(1.1);">Payoff: -1/3</div>
<div class="t" style="left:55.25px;top:271.70px;color:#0000ff;font:normal 13px/0 'Liberation Sans',sans-serif;letter-spacing:0.068px;transform-origin:0 0;transform:scaleX(1.1);">Node value: -5/3</div>
<div class="t" style="left:47.85px;top:288.50px;color:#0000ff;font:normal 13px/0 'Liberation Sans',sans-serif;letter-spacing:0.102px;transform-origin:0 0;transform:scaleX(1.1);">Node reached: 1/2</div>
<div class="t" style="left:55.82px;top:305.20px;color:#0000ff;font:normal 13px/0 'Liberation Sans',sans-serif;letter-spacing:0.071px;transform-origin:0 0;transform:scaleX(1.1);">Infoset value: -1</div>
<div class="t" style="left:43.52px;top:322.20px;color:#0000ff;font:normal 13px/0 'Liberation Sans',sans-serif;letter-spacing:0.110px;transform-origin:0 0;transform:scaleX(1.1);">Infoset reached: 2/3</div>
<div class="t" style="left:76.15px;top:338.90px;color:#0000ff;font:normal 13px/0 'Liberation Sans',sans-serif;letter-spacing:-0.043px;transform-origin:0 0;transform:scaleX(1.1);">Belief: 3/4</div>
<div class="t" style="left:293.72px;top:177.74px;color:#9acd32;font:bold 12px/0 'Liberation Sans',sans-serif;letter-spacing:0.898px;transform-origin:0 0;transform:scaleX(1.1);">Red</div>
<div class="t" style="left:293.95px;top:197.64px;color:#9acd32;font:bold 12px/0 'Liberation Sans',sans-serif;letter-spacing:1.066px;transform-origin:0 0;transform:scaleX(1.1);">1/2</div>
<div class="t" style="left:293.92px;top:310.84px;color:#9acd32;font:bold 12px/0 'Liberation Sans',sans-serif;letter-spacing:0.522px;transform-origin:0 0;transform:scaleX(1.1);">Black</div>
<div class="t" style="left:293.95px;top:331.74px;color:#9acd32;font:bold 12px/0 'Liberation Sans',sans-serif;letter-spacing:1.066px;transform-origin:0 0;transform:scaleX(1.1);">1/2</div>
<div class="t" style="left:223.40px;top:271.14px;color:#9acd32;font:bold 12px/0 'Liberation Sans',sans-serif;letter-spacing:-0.118px;transform-origin:0 0;transform:scaleX(1.1);">C:1</div>
<div class="t" style="left:338.75px;top:204.44px;color:#ff0000;font:bold 12px/0 'Liberation Sans',sans-serif;letter-spacing:0.715px;transform-origin:0 0;transform:scaleX(1.1);">1:1</div>
<div class="t" style="left:338.75px;top:337.54px;color:#ff0000;font:bold 12px/0 'Liberation Sans',sans-serif;letter-spacing:1.214px;transform-origin:0 0;transform:scaleX(1.1);">1:2</div>
<div class="t" style="left:408.52px;top:145.04px;color:#ff0000;font:bold 12px/0 'Liberation Sans',sans-serif;letter-spacing:0.885px;transform-origin:0 0;transform:scaleX(1.1);">Raise</div>
<div class="t" style="left:408.55px;top:166.34px;color:#ff0000;font:bold 12px/0 'Liberation Sans',sans-serif;letter-spacing:0.000px;transform-origin:0 0;transform:scaleX(1.1);">1</div>
<div class="t" style="left:408.52px;top:212.04px;color:#ff0000;font:bold 12px/0 'Liberation Sans',sans-serif;letter-spacing:0.907px;transform-origin:0 0;transform:scaleX(1.1);">Fold</div>
<div class="t" style="left:409.02px;top:231.94px;color:#ff0000;font:bold 12px/0 'Liberation Sans',sans-serif;letter-spacing:0.000px;transform-origin:0 0;transform:scaleX(1.1);">0</div>
<div class="t" style="left:408.52px;top:279.44px;color:#ff0000;font:bold 12px/0 'Liberation Sans',sans-serif;letter-spacing:0.885px;transform-origin:0 0;transform:scaleX(1.1);">Raise</div>
<div class="t" style="left:408.55px;top:299.34px;color:#ff0000;font:bold 12px/0 'Liberation Sans',sans-serif;letter-spacing:1.214px;transform-origin:0 0;transform:scaleX(1.1);">1/3</div>
<div class="t" style="left:408.52px;top:344.84px;color:#ff0000;font:bold 12px/0 'Liberation Sans',sans-serif;letter-spacing:0.907px;transform-origin:0 0;transform:scaleX(1.1);">Fold</div>
<div class="t" style="left:409.10px;top:366.14px;color:#ff0000;font:bold 12px/0 'Liberation Sans',sans-serif;letter-spacing:1.023px;transform-origin:0 0;transform:scaleX(1.1);">2/3</div>
<div class="t" style="left:490.30px;top:171.34px;color:#0000ff;font:bold 12px/0 'Liberation Sans',sans-serif;letter-spacing:0.307px;transform-origin:0 0;transform:scaleX(1.1);">2:1</div>
<div class="t" style="left:490.10px;top:304.34px;color:#0000ff;font:bold 12px/0 'Liberation Sans',sans-serif;letter-spacing:0.380px;transform-origin:0 0;transform:scaleX(1.1);">2:1</div>
<div class="t" style="left:560.32px;top:123.24px;color:#0000ff;font:bold 12px/0 'Liberation Sans',sans-serif;letter-spacing:1.879px;transform-origin:0 0;transform:scaleX(1.1);">Meet</div>
<div class="t" style="left:560.90px;top:143.24px;color:#0000ff;font:bold 12px/0 'Liberation Sans',sans-serif;letter-spacing:0.996px;transform-origin:0 0;transform:scaleX(1.1);">2/3</div>
<div class="t" style="left:560.32px;top:167.44px;color:#0000ff;font:bold 12px/0 'Liberation Sans',sans-serif;letter-spacing:1.119px;transform-origin:0 0;transform:scaleX(1.1);">Pass</div>
<div class="t" style="left:560.35px;top:188.34px;color:#0000ff;font:bold 12px/0 'Liberation Sans',sans-serif;letter-spacing:1.305px;transform-origin:0 0;transform:scaleX(1.1);">1/3</div>
<div class="t" style="left:560.32px;top:256.14px;color:#0000ff;font:bold 12px/0 'Liberation Sans',sans-serif;letter-spacing:1.879px;transform-origin:0 0;transform:scaleX(1.1);">Meet</div>
<div class="t" style="left:560.90px;top:277.04px;color:#0000ff;font:bold 12px/0 'Liberation Sans',sans-serif;letter-spacing:0.996px;transform-origin:0 0;transform:scaleX(1.1);">2/3</div>
<div class="t" style="left:560.32px;top:301.04px;color:#0000ff;font:bold 12px/0 'Liberation Sans',sans-serif;letter-spacing:1.119px;transform-origin:0 0;transform:scaleX(1.1);">Pass</div>
<div class="t" style="left:560.35px;top:320.54px;color:#0000ff;font:bold 12px/0 'Liberation Sans',sans-serif;letter-spacing:1.305px;transform-origin:0 0;transform:scaleX(1.1);">1/3</div>
<div class="t" style="left:709.40px;top:133.34px;color:#ff0000;font:bold 12px/0 'Liberation Sans',sans-serif;letter-spacing:0.000px;transform-origin:0 0;transform:scaleX(1.1);">2</div>
<div class="t" style="left:725.36px;top:133.34px;color:#0000ff;font:bold 12px/0 'Liberation Sans',sans-serif;letter-spacing:0.610px;transform-origin:0 0;transform:scaleX(1.1);">-2</div>
<div class="t" style="left:708.85px;top:178.34px;color:#ff0000;font:bold 12px/0 'Liberation Sans',sans-serif;letter-spacing:0.000px;transform-origin:0 0;transform:scaleX(1.1);">1</div>
<div class="t" style="left:725.36px;top:178.34px;color:#0000ff;font:bold 12px/0 'Liberation Sans',sans-serif;letter-spacing:0.357px;transform-origin:0 0;transform:scaleX(1.1);">-1</div>
<div class="t" style="left:709.26px;top:267.54px;color:#ff0000;font:bold 12px/0 'Liberation Sans',sans-serif;letter-spacing:0.592px;transform-origin:0 0;transform:scaleX(1.1);">-2</div>
<div class="t" style="left:730.30px;top:267.54px;color:#0000ff;font:bold 12px/0 'Liberation Sans',sans-serif;letter-spacing:0.000px;transform-origin:0 0;transform:scaleX(1.1);">2</div>
<div class="t" style="left:708.85px;top:311.34px;color:#ff0000;font:bold 12px/0 'Liberation Sans',sans-serif;letter-spacing:0.000px;transform-origin:0 0;transform:scaleX(1.1);">1</div>
<div class="t" style="left:725.16px;top:311.34px;color:#0000ff;font:bold 12px/0 'Liberation Sans',sans-serif;letter-spacing:0.503px;transform-origin:0 0;transform:scaleX(1.1);">-1</div>
<div class="t" style="left:558.36px;top:222.44px;color:#ff0000;font:bold 12px/0 'Liberation Sans',sans-serif;letter-spacing:0.175px;transform-origin:0 0;transform:scaleX(1.1);">-1</div>
<div class="t" style="left:578.95px;top:222.44px;color:#0000ff;font:bold 12px/0 'Liberation Sans',sans-serif;letter-spacing:0.000px;transform-origin:0 0;transform:scaleX(1.1);">1</div>
<div class="t" style="left:558.36px;top:356.44px;color:#ff0000;font:bold 12px/0 'Liberation Sans',sans-serif;letter-spacing:0.175px;transform-origin:0 0;transform:scaleX(1.1);">-1</div>
<div class="t" style="left:578.95px;top:356.44px;color:#0000ff;font:bold 12px/0 'Liberation Sans',sans-serif;letter-spacing:0.000px;transform-origin:0 0;transform:scaleX(1.1);">1</div>
<div class="t" style="left:256.50px;top:255.09px;color:#c0c0c0;font:italic bold 11px/0 'Liberation Sans',sans-serif;letter-spacing:0.374px;transform-origin:0 0;transform:scaleX(1.1);">(u)</div>
<div class="t" style="left:371.50px;top:189.19px;color:#c0c0c0;font:italic bold 11px/0 'Liberation Sans',sans-serif;letter-spacing:0.374px;transform-origin:0 0;transform:scaleX(1.1);">(u)</div>
<div class="t" style="left:371.50px;top:321.99px;color:#c0c0c0;font:italic bold 11px/0 'Liberation Sans',sans-serif;letter-spacing:0.374px;transform-origin:0 0;transform:scaleX(1.1);">(u)</div>
<div class="t" style="left:523.40px;top:155.99px;color:#c0c0c0;font:italic bold 11px/0 'Liberation Sans',sans-serif;letter-spacing:0.722px;transform-origin:0 0;transform:scaleX(1.1);">(u)</div>
<div class="t" style="left:523.40px;top:288.99px;color:#c0c0c0;font:italic bold 11px/0 'Liberation Sans',sans-serif;letter-spacing:0.722px;transform-origin:0 0;transform:scaleX(1.1);">(u)</div>
<div class="t" style="left:19.67px;top:413.96px;color:#000;font:normal 16px/0 'Liberation Serif',serif;letter-spacing:0.804px;transform-origin:0 0;transform:scaleX(1.0);-webkit-text-stroke:0.15px #000;">Profiles 1</div>
<div class="t" style="left:122.74px;top:413.96px;color:#000;font:normal 16px/0 'Liberation Serif',serif;letter-spacing:0.626px;transform-origin:0 0;transform:scaleX(1.0);-webkit-text-stroke:0.15px #000;">All equilibria by enumeration of mixed strategies in strategic game</div>
<div class="t" style="left:21.98px;top:447.00px;color:#000;font:bold 13px/0 'Liberation Sans',sans-serif;letter-spacing:0.000px;transform-origin:0 0;transform:scaleX(1.1);">#</div>
<div class="t" style="left:50.52px;top:447.00px;color:#000;font:bold 13px/0 'Liberation Sans',sans-serif;letter-spacing:0.436px;transform-origin:0 0;transform:scaleX(1.1);">1: Raise</div>
<div class="t" style="left:119.02px;top:447.00px;color:#000;font:bold 13px/0 'Liberation Sans',sans-serif;letter-spacing:0.614px;transform-origin:0 0;transform:scaleX(1.1);">1: Fold</div>
<div class="t" style="left:178.37px;top:447.00px;color:#000;font:bold 13px/0 'Liberation Sans',sans-serif;letter-spacing:0.553px;transform-origin:0 0;transform:scaleX(1.1);">2: Raise</div>
<div class="t" style="left:247.37px;top:447.00px;color:#000;font:bold 13px/0 'Liberation Sans',sans-serif;letter-spacing:0.659px;transform-origin:0 0;transform:scaleX(1.1);">2: Fold</div>
<div class="t" style="left:308.22px;top:447.00px;color:#000;font:bold 13px/0 'Liberation Sans',sans-serif;letter-spacing:0.890px;transform-origin:0 0;transform:scaleX(1.1);">1: Meet</div>
<div class="t" style="left:374.02px;top:447.00px;color:#000;font:bold 13px/0 'Liberation Sans',sans-serif;letter-spacing:0.609px;transform-origin:0 0;transform:scaleX(1.1);">1: Pass</div>
<div class="t" style="left:22.12px;top:473.50px;color:#000;font:bold 13px/0 'Liberation Sans',sans-serif;letter-spacing:0.000px;transform-origin:0 0;transform:scaleX(1.1);">1</div>
<div class="t" style="left:74.92px;top:473.50px;color:#ff0000;font:bold 13px/0 'Liberation Sans',sans-serif;letter-spacing:0.000px;transform-origin:0 0;transform:scaleX(1.1);">1</div>
<div class="t" style="left:139.39px;top:473.50px;color:#ff0000;font:bold 13px/0 'Liberation Sans',sans-serif;letter-spacing:0.000px;transform-origin:0 0;transform:scaleX(1.1);">0</div>
</div>
</body></html>
